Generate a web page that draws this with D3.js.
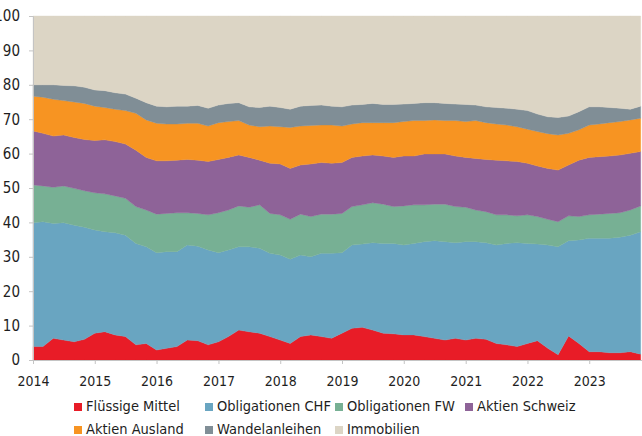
<!DOCTYPE html>
<html>
<head>
<meta charset="utf-8">
<script src="https://cdn.jsdelivr.net/npm/d3@7"></script>
<style>
  body { margin: 0; background: #fff; }
  svg { display: block; font-family: 'DejaVu Sans Condensed', 'DejaVu Sans', sans-serif; }
</style>
</head>
<body>
<svg width="642" height="436"></svg>
<script>
// bimonthly shares in %, Jan 2014 .. Nov 2023
const fluessigeMittel = [
  3.9, 3.9, 6.3, 5.8, 5.3, 6.0, 7.8, 8.2, 7.3, 6.8, 4.4, 4.8,
  2.9, 3.4, 3.9, 5.8, 5.6, 4.4, 5.3, 6.8, 8.7, 8.2, 7.8, 6.8,
  5.8, 4.8, 6.8, 7.3, 6.8, 6.3, 7.8, 9.2, 9.5, 8.7, 7.8, 7.6,
  7.3, 7.3, 6.8, 6.3, 5.8, 6.3, 5.8, 6.3, 6.0, 4.8, 4.4, 3.9,
  4.8, 5.6, 3.4, 1.5, 7.0, 4.8, 2.4, 2.4, 2.1, 2.1, 2.4, 1.7
]
const obligationenCHF = [
  36.0, 36.3, 33.4, 34.1, 33.9, 32.6, 30.0, 29.1, 29.7, 29.5, 29.5, 28.1,
  28.3, 28.1, 27.6, 27.6, 27.5, 27.6, 25.9, 25.2, 24.2, 24.7, 24.7, 24.2,
  24.7, 24.5, 23.7, 22.7, 24.2, 24.7, 23.4, 24.2, 24.2, 25.4, 26.1, 26.3,
  26.1, 26.6, 27.6, 28.4, 28.6, 27.8, 28.6, 28.1, 28.1, 28.6, 29.5, 30.2,
  29.1, 28.1, 30.0, 31.4, 27.7, 30.1, 33.0, 33.0, 33.3, 33.6, 33.9, 35.6
]
const obligationenFW = [
  11.0, 10.4, 10.5, 10.7, 10.7, 10.6, 10.8, 11.0, 10.7, 10.7, 10.7, 10.7,
  11.2, 11.1, 11.3, 9.4, 9.5, 10.2, 11.6, 11.6, 11.9, 11.5, 12.6, 11.6,
  11.7, 11.6, 11.9, 11.7, 11.4, 11.4, 11.4, 11.2, 11.4, 11.6, 11.4, 10.7,
  11.4, 11.2, 10.7, 10.6, 10.9, 10.5, 10.0, 9.2, 9.0, 8.8, 8.3, 7.8,
  8.3, 8.0, 7.5, 7.3, 7.2, 6.8, 6.8, 7.0, 7.2, 7.1, 7.3, 7.5
]
const aktienSchweiz = [
  15.7, 15.3, 14.9, 14.8, 14.8, 14.9, 15.2, 15.7, 15.8, 15.8, 16.4, 15.3,
  15.5, 15.3, 15.3, 15.5, 15.5, 15.5, 15.5, 15.3, 14.8, 14.5, 13.0, 14.6,
  14.8, 14.8, 14.3, 15.3, 15.0, 14.8, 14.8, 14.3, 14.2, 13.9, 14.0, 14.3,
  14.5, 14.2, 14.8, 14.6, 14.6, 14.7, 14.5, 15.0, 15.2, 15.9, 15.7, 15.8,
  15.0, 14.7, 14.8, 15.0, 14.8, 16.4, 16.7, 16.7, 16.7, 16.8, 16.5, 15.8
]
const aktienAusland = [
  10.1, 10.5, 10.7, 10.0, 10.3, 10.5, 10.0, 9.4, 9.4, 9.7, 10.7, 10.9,
  10.9, 10.7, 10.5, 10.5, 10.7, 10.3, 10.7, 10.4, 10.0, 9.4, 9.7, 10.8,
  10.8, 11.9, 11.3, 11.2, 10.9, 11.1, 10.6, 9.7, 9.7, 9.4, 9.7, 10.1,
  10.0, 10.3, 9.7, 9.9, 9.7, 10.3, 10.4, 11.0, 10.7, 10.5, 10.4, 10.1,
  9.9, 10.0, 10.1, 10.2, 9.2, 8.8, 9.4, 9.5, 9.7, 9.7, 9.7, 9.7
]
const wandelanleihen = [
  3.3, 3.6, 4.2, 4.4, 4.7, 4.7, 4.7, 4.9, 4.8, 4.8, 4.4, 5.0,
  5.0, 5.0, 5.2, 5.0, 5.2, 5.2, 5.1, 5.3, 5.2, 5.3, 5.6, 5.8,
  5.6, 5.3, 5.8, 5.8, 5.8, 5.5, 5.6, 5.5, 5.3, 5.6, 5.3, 5.3,
  5.1, 5.0, 5.2, 5.0, 5.0, 4.8, 5.0, 4.5, 4.6, 4.8, 4.9, 5.1,
  5.4, 5.1, 4.9, 5.1, 5.0, 5.3, 5.3, 5.0, 4.4, 3.9, 3.1, 3.5
]
const immobilien = [
  20.0, 20.0, 20.0, 20.2, 20.3, 20.7, 21.5, 21.7, 22.3, 22.7, 23.9, 25.2,
  26.2, 26.4, 26.2, 26.2, 26.0, 26.8, 25.9, 25.4, 25.2, 26.4, 26.6, 26.2,
  26.6, 27.1, 26.2, 26.0, 25.9, 26.2, 26.4, 25.9, 25.7, 25.4, 25.7, 25.7,
  25.6, 25.4, 25.2, 25.2, 25.4, 25.6, 25.7, 25.9, 26.4, 26.6, 26.8, 27.1,
  27.5, 28.5, 29.3, 29.5, 29.1, 27.8, 26.4, 26.4, 26.6, 26.8, 27.1, 26.2
]

const categories = [
  'Flüssige Mittel', 'Obligationen CHF', 'Obligationen FW', 'Aktien Schweiz',
  'Aktien Ausland', 'Wandelanleihen', 'Immobilien'
]
const series = [
  fluessigeMittel, obligationenCHF, obligationenFW, aktienSchweiz,
  aktienAusland, wandelanleihen, immobilien
]
const colors = ['#e81c27', '#69a5c1', '#77b094', '#8e6398', '#f79422', '#808e96', '#dcd5c5']
const yearTicks = d3.range(2014, 2024)
const yTicks = d3.range(0, 101, 10)

const svg = d3.select('svg'),
  width = +svg.attr('width'),
  height = +svg.attr('height')

const rows = fluessigeMittel.map((v, i) => {
  const row = { date: new Date(2014, i * 2, 1) }
  categories.forEach((c, j) => (row[c] = series[j][i]))
  return row
})

const x = d3
  .scaleTime()
  .domain([new Date(2014, 0, 1), new Date(2024, 0, 1)])
  .range([33, 651])

const y = d3.scaleLinear().domain([0, 100]).range([360, 16])

const color = d3.scaleOrdinal().domain(categories).range(colors)

const stacked = d3
  .stack()
  .keys(categories)
  .offset(d3.stackOffsetExpand)(rows)

const area = d3
  .area()
  .x(d => x(d.data.date))
  .y0(d => y(d[0] * 100))
  .y1(d => y(d[1] * 100))

svg
  .append('g')
  .selectAll('path')
  .data(stacked)
  .enter()
  .append('path')
  .attr('fill', d => color(d.key))
  .attr('stroke', d => color(d.key))
  .attr('stroke-width', 0.4)
  .attr('d', area)

const xAxis = svg
  .append('g')
  .attr('transform', 'translate(0,360)')
  .call(
    d3
      .axisBottom(x)
      .tickValues(yearTicks.map(yr => new Date(yr, 0, 1)))
      .tickFormat(d3.timeFormat('%Y'))
      .tickSize(4)
      .tickPadding(12)
  )

// labels sit partly off the left edge, like the source crop
const yAxis = svg
  .append('g')
  .attr('transform', 'translate(33,0)')
  .call(d3.axisLeft(y).tickValues(yTicks).tickSize(4).tickPadding(9))

for (let ax of [xAxis, yAxis]) {
  ax.select('.domain').attr('stroke', '#c4c4c4')
  ax.selectAll('.tick line').attr('stroke', '#c4c4c4')
  ax.selectAll('.tick text')
    .attr('fill', '#1e1e1e')
    .style('font-size', '14px')
    .style('font-family', "'DejaVu Sans Condensed', 'DejaVu Sans', sans-serif")
}
xAxis.selectAll('.tick text').attr('dy', '0.71em')
yAxis.selectAll('.tick text').style('font-size', '15px')

// legend, two rows
const legendX = [86, 217, 347, 477]
const legendY = [411, 434]

const legend = svg
  .append('g')
  .selectAll('g')
  .data(categories)
  .enter()
  .append('g')
  .attr('transform', (d, i) => {
    const row = i < 4 ? 0 : 1
    const col = i < 4 ? i : i - 4
    return 'translate(' + legendX[col] + ',' + legendY[row] + ')'
  })

legend
  .append('rect')
  .attr('x', -12)
  .attr('y', -8)
  .attr('width', 8)
  .attr('height', 8)
  .attr('fill', d => color(d))

legend
  .append('text')
  .attr('fill', '#1e1e1e')
  .style('font-size', '14.5px')
  .text(d => d)
</script>
</body>
</html>
